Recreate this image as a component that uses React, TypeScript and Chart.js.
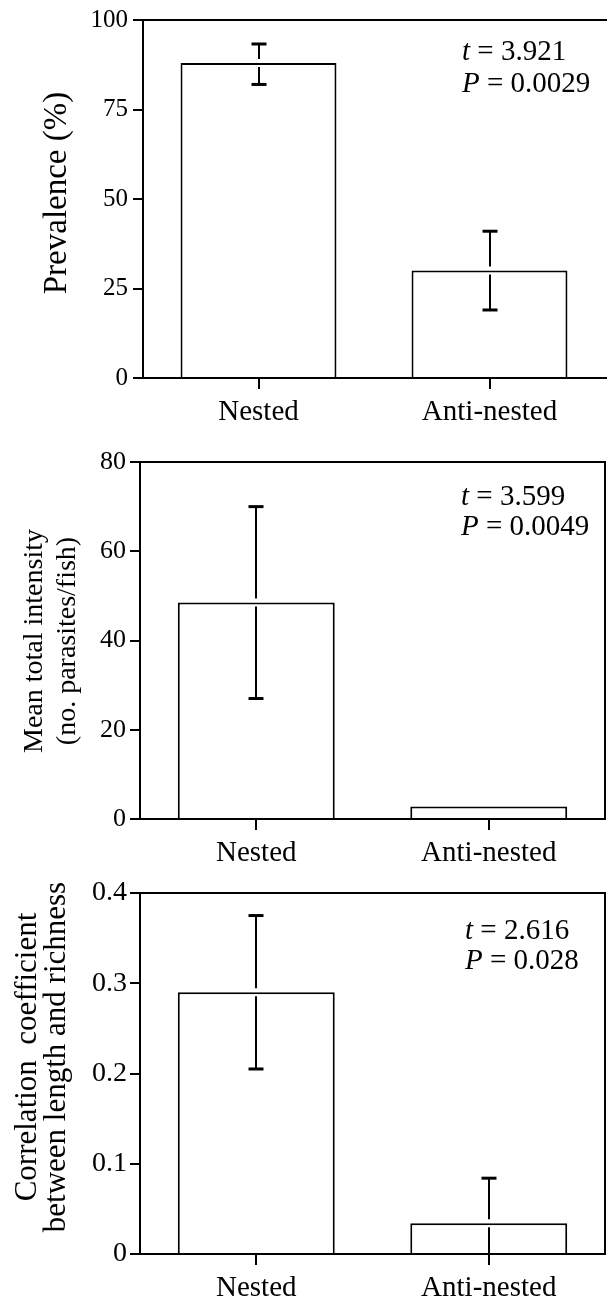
import React, { useEffect, useRef } from "react";
import { Chart, registerables } from "chart.js";

Chart.register(...registerables);

// ---------- data ----------
const categories = ["Nested", "Anti-nested"];

const prevalence = [88, 30];
const prevalenceLow = [82, 19];
const prevalenceHigh = [93.3, 41];
const prevalenceAxis = { min: 0, max: 100, step: 25 };

const intensity = [48.5, 2.8];
const intensityLow: (number | null)[] = [27, null];
const intensityHigh: (number | null)[] = [70, null];
const intensityAxis = { min: 0, max: 80, step: 20 };

const correlation = [0.29, 0.034];
const correlationLow = [0.205, 0];
const correlationHigh = [0.375, 0.084];
const correlationAxis = { min: 0, max: 0.4, step: 0.1 };

const tStats = ["3.921", "3.599", "2.616"];
const pStats = ["0.0029", "0.0049", "0.028"];

const yTitles = [
  ["Prevalence (%)"],
  ["Mean total intensity", "(no. parasites/fish)"],
  ["Correlation  coefficient", "between length and richness"],
];

// ---------- layout / style ----------
const FONT = "'Liberation Serif', 'Times New Roman', serif";
const W = 607;

const panels = [
  {
    values: prevalence, low: prevalenceLow, high: prevalenceHigh, axis: prevalenceAxis,
    top: 0, height: 432, plotTop: 19, plotBottom: 378, plotLeft: 143, plotRight: 605,
    tickSize: 25, tickPad: 5, catSize: 29, titleSize: 33, titleBaselines: [66], titleCenterY: 193,
    annotX: 462, annotBaselines: [60, 92], annotSize: 29, rightBorder: false,
  },
  {
    values: intensity, low: intensityLow, high: intensityHigh, axis: intensityAxis,
    top: 432, height: 433, plotTop: 30, plotBottom: 387, plotLeft: 140, plotRight: 605,
    tickSize: 26, tickPad: 4, catSize: 29, titleSize: 28, titleBaselines: [42, 75], titleCenterY: 209,
    annotX: 461, annotBaselines: [73, 103], annotSize: 29, rightBorder: true,
  },
  {
    values: correlation, low: correlationLow, high: correlationHigh, axis: correlationAxis,
    top: 865, height: 439, plotTop: 28, plotBottom: 389, plotLeft: 140, plotRight: 605,
    tickSize: 28, tickPad: 3, catSize: 29, titleSize: 31, titleBaselines: [36, 65], titleCenterY: 192,
    annotX: 465, annotBaselines: [74, 104], annotSize: 29, rightBorder: true,
  },
];

const decorPlugin = {
  id: "panelDecor",
  afterDatasetsDraw(chart: any, _args: any, opts: any) {
    const { ctx } = chart;
    const meta = chart.getDatasetMeta(0);
    const yScale = chart.scales.y;
    const gap = 4;
    const cap = 15;
    ctx.save();
    ctx.strokeStyle = "#000";
    ctx.lineCap = "butt";
    const seg = (x1: number, y1: number, x2: number, y2: number, w: number) => {
      ctx.lineWidth = w;
      ctx.beginPath();
      ctx.moveTo(x1, y1);
      ctx.lineTo(x2, y2);
      ctx.stroke();
    };
    meta.data.forEach((bar: any, i: number) => {
      const x = Math.round(bar.x);
      const yv = bar.y;
      const hi = opts.high[i];
      const lo = opts.low[i];
      if (hi != null) {
        const yh = yScale.getPixelForValue(hi);
        seg(x, yh, x, yv - gap, 2);
        seg(x - cap / 2, yh, x + cap / 2, yh, 3);
      }
      if (lo != null) {
        const yl = yScale.getPixelForValue(lo);
        seg(x, yv + gap, x, yl, 2);
        if (lo > yScale.min) seg(x - cap / 2, yl, x + cap / 2, yl, 3);
      }
    });
    ctx.restore();
  },
  afterDraw(chart: any, _args: any, opts: any) {
    const { ctx, chartArea } = chart;
    ctx.save();
    ctx.strokeStyle = "#000";
    ctx.lineWidth = 2;
    ctx.beginPath();
    ctx.moveTo(chartArea.left - 1, chartArea.top);
    ctx.lineTo(opts.rightBorder ? chartArea.right + 1 : W, chartArea.top);
    ctx.stroke();
    if (opts.rightBorder) {
      ctx.beginPath();
      ctx.moveTo(chartArea.right, chartArea.top);
      ctx.lineTo(chartArea.right, chartArea.bottom);
      ctx.stroke();
    } else {
      ctx.beginPath();
      ctx.moveTo(chartArea.right, chartArea.bottom);
      ctx.lineTo(W, chartArea.bottom);
      ctx.stroke();
    }
    ctx.fillStyle = "#000";
    ctx.textAlign = "left";
    ctx.textBaseline = "alphabetic";
    const drawStat = (sym: string, val: string, y: number) => {
      ctx.font = `italic ${opts.annotSize}px ${FONT}`;
      ctx.fillText(sym, opts.annotX, y);
      const w = ctx.measureText(sym).width;
      ctx.font = `${opts.annotSize}px ${FONT}`;
      ctx.fillText(" = " + val, opts.annotX + w, y);
    };
    drawStat("t", opts.t, opts.annotBaselines[0]);
    drawStat("P", opts.p, opts.annotBaselines[1]);
    ctx.font = `${opts.titleSize}px ${FONT}`;
    ctx.textAlign = "center";
    opts.title.forEach((line: string, k: number) => {
      ctx.save();
      ctx.translate(opts.titleBaselines[k], opts.titleCenterY);
      ctx.rotate(-Math.PI / 2);
      ctx.fillText(line, 0, 0);
      ctx.restore();
    });
    ctx.restore();
  },
};

function Panel({ idx }: { idx: number }) {
  const ref = useRef<HTMLCanvasElement | null>(null);
  const p = panels[idx];
  useEffect(() => {
    if (!ref.current) return;
    const chart = new Chart(ref.current, {
      type: "bar",
      data: {
        labels: categories,
        datasets: [
          {
            data: p.values,
            backgroundColor: "#ffffff",
            borderColor: "#000000",
            borderWidth: 2,
            borderSkipped: "start",
            barPercentage: 0.675,
            categoryPercentage: 1,
          },
        ],
      },
      options: {
        responsive: false,
        animation: false,
        devicePixelRatio: 1,
        layout: { padding: { top: p.plotTop, right: W - p.plotRight, bottom: 0, left: 0 } },
        plugins: {
          legend: { display: false },
          tooltip: { enabled: false },
          panelDecor: {
            low: p.low, high: p.high, t: tStats[idx], p: pStats[idx], title: yTitles[idx],
            titleSize: p.titleSize, titleBaselines: p.titleBaselines, titleCenterY: p.titleCenterY,
            annotX: p.annotX, annotBaselines: p.annotBaselines, annotSize: p.annotSize,
            rightBorder: p.rightBorder,
          },
        } as any,
        scales: {
          x: {
            type: "category",
            offset: true,
            grid: {
              offset: false, drawOnChartArea: false, drawTicks: true, tickLength: 11,
              color: "#000", lineWidth: 2,
            },
            border: { display: true, color: "#000", width: 2 },
            ticks: { color: "#000", font: { family: FONT, size: p.catSize }, padding: 6, maxRotation: 0 },
            afterFit: (s: any) => { s.height = p.height - p.plotBottom; },
          },
          y: {
            type: "linear",
            min: p.axis.min,
            max: p.axis.max,
            grid: { drawOnChartArea: false, drawTicks: true, tickLength: 10, color: "#000", lineWidth: 2 },
            border: { display: true, color: "#000", width: 2 },
            ticks: { stepSize: p.axis.step, color: "#000", font: { family: FONT, size: p.tickSize }, padding: p.tickPad },
            afterFit: (s: any) => { s.width = p.plotLeft; },
          },
        },
      },
      plugins: [decorPlugin as any],
    });
    return () => chart.destroy();
  }, [idx]);
  return (
    <canvas
      ref={ref}
      width={W}
      height={p.height}
      style={{ position: "absolute", left: 0, top: p.top, width: W, height: p.height, display: "block" }}
    />
  );
}

export default function App() {
  return (
    <div style={{ position: "absolute", left: 0, top: 0, width: W, height: 1304, background: "#fff", overflow: "hidden" }}>
      <Panel idx={0} />
      <Panel idx={1} />
      <Panel idx={2} />
    </div>
  );
}
